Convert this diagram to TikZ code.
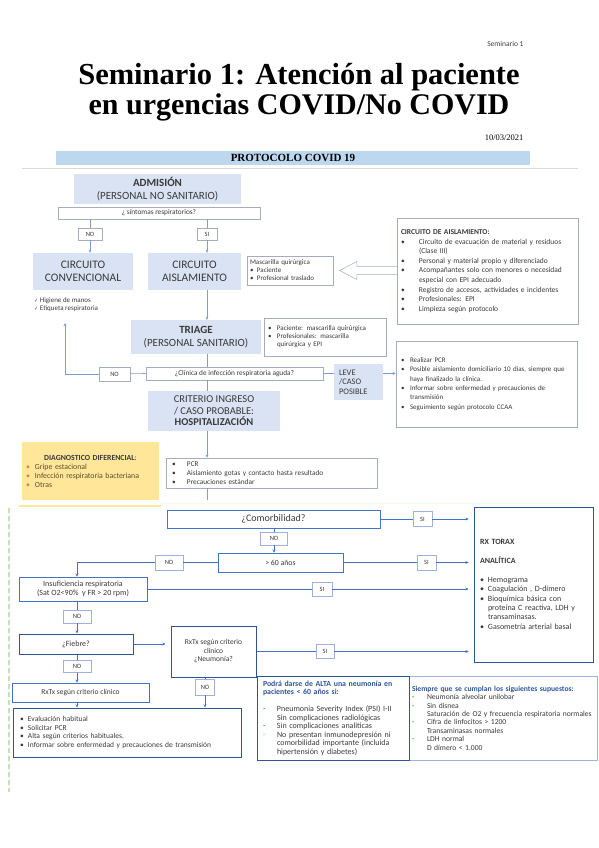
\documentclass[tikz,border=0pt]{standalone}
\usepackage{fontspec}
\setmainfont{Carlito}
\newfontfamily\ttlfont{Liberation Serif}
\newfontfamily\symfont{DejaVu Sans}
\usepackage{xcolor}
\usetikzlibrary{arrows.meta,calc}
\definecolor{barblue}{HTML}{BDD7EE}
\definecolor{boxfill}{HTML}{DAE3F3}
\definecolor{boxline}{HTML}{A3AEBD}
\definecolor{connblue}{HTML}{7F9CCF}
\definecolor{arrblue}{HTML}{4472C4}
\definecolor{lblblue}{HTML}{9DB3DE}
\definecolor{darkblue}{HTML}{2F5597}
\definecolor{diagyellow}{HTML}{FFE699}
\definecolor{diagtxt}{HTML}{5E4A2A}
\definecolor{diagbul}{HTML}{D08A2A}
\definecolor{dashgreen}{HTML}{C5E0B4}
\definecolor{txtdark}{HTML}{3A3A3A}
\newcommand{\fsz}[2]{\fontsize{#1}{#2}\selectfont}
\newcommand{\bitem}[2]{\makebox[#1][l]{#2}}
\tikzset{>={Stealth[length=3.2pt,width=3pt]}}
\tikzset{%
    fillbox/.style={fill=boxfill, text=txtdark, inner sep=0pt, align=center},
    linebox/.style={draw=boxline, line width=0.5pt, fill=white, text=txtdark, inner sep=0pt},
    yesno/.style={draw=boxline, line width=0.5pt, fill=white, text=txtdark, inner sep=0pt, font=\fsz{6.5}{7}},
    conn/.style={draw=connblue, line width=0.6pt},
    bluebox/.style={draw=arrblue, line width=0.6pt, fill=white, text=txtdark, inner sep=0pt},
    byesno/.style={draw=lblblue, line width=0.5pt, fill=white, text=txtdark, inner sep=0pt, font=\fsz{6.5}{7}},
    bconn/.style={draw=arrblue, line width=0.7pt}
}

\begin{document}
\begin{tikzpicture}[x=1pt,y=-1pt]
\useasboundingbox (0,0) rectangle (599,848);

\node[anchor=base east, font=\fsz{7.5}{9}, text=txtdark] (sem) at (527,47) {Seminario 1};
\node[anchor=base, font=\ttlfont\bfseries\fsz{30.5}{30}] (title1) at (299,85) {Seminario 1: Atención al paciente};
\node[anchor=base, font=\ttlfont\bfseries\fsz{30}{30}] (title2) at (299,114) {en urgencias COVID/No COVID};
\node[anchor=base east, font=\ttlfont\fsz{8.5}{10}] (date) at (527,140) {10/03/2021};
\node[fill=barblue, minimum width=474pt, minimum height=14pt, inner sep=0pt, font=\ttlfont\bfseries\fsz{11}{12}] (bar) at (293,158) {PROTOCOLO COVID 19};
\draw[black!15, line width=0.8pt] (22,168) -- (578,168);

\node[fillbox, minimum width=167pt, minimum height=30pt, font=\fsz{11}{13.5}] (adm) at (157.5,189) {\textbf{ADMISIÓN}\\(PERSONAL NO SANITARIO)};
\node[linebox, minimum width=202pt, minimum height=12pt, font=\fsz{7.3}{8}] (sint) at (159,213) {¿ síntomas respiratorios?};
\node[yesno, minimum width=24pt, minimum height=12pt] (no1) at (90,234) {NO};
\node[yesno, minimum width=20pt, minimum height=12pt] (si1) at (207,234) {SI};
\node[fillbox, minimum width=100pt, minimum height=37pt, font=\fsz{11.5}{13}] (conv) at (83,271.5) {CIRCUITO\\CONVENCIONAL};
\node[fillbox, minimum width=93pt, minimum height=37pt, font=\fsz{11.5}{13}] (aisl) at (194.5,271.5) {CIRCUITO\\AISLAMIENTO};
\node[anchor=north west, align=left, inner sep=0pt, text=txtdark, font=\fsz{7}{8}] (checks) at (34,297) {{\symfont\fsz{5}{8}✓} Higiene de manos\\{\symfont\fsz{5}{8}✓} Etiqueta respiratoria};
\node[linebox, minimum height=29pt, text width=80pt, inner xsep=3pt, align=left, font=\fsz{7}{8}] (masc) at (290,270.5) {Mascarilla quirúrgica\\\bitem{7pt}{\textbullet}Paciente\\\bitem{7pt}{\textbullet}Profesional traslado};
\node[linebox, minimum height=106pt, text width=173pt, inner xsep=4pt, align=left, font=\fsz{7.5}{9.6}] (aislbox) at (487.5,271) {\textbf{CIRCUITO DE AISLAMIENTO:}\\
\bitem{18pt}{\textbullet}Circuito de evacuación de material y residuos\\
\bitem{18pt}{}(Clase III)\\
\bitem{18pt}{\textbullet}Personal y material propio y diferenciado\\
\bitem{18pt}{\textbullet}Acompañantes solo con menores o necesidad\\
\bitem{18pt}{}especial con EPI adecuado\\
\bitem{18pt}{\textbullet}Registro de accesos, actividades e incidentes\\
\bitem{18pt}{\textbullet}Profesionales: EPI\\
\bitem{18pt}{\textbullet}Limpieza según protocolo};
\draw[boxline, fill=white, line width=0.5pt] ($(aislbox.west |- masc.east)+(0,-4)$) -- ++(-40,0) -- ++(0,-5) -- ++(-17,9) -- ++(17,9) -- ++(0,-5) -- ++(40,0);

\node[fillbox, minimum width=130pt, minimum height=34pt, font=\fsz{11}{12.5}] (triage) at (196,337) {\textbf{TRIAGE}\\(PERSONAL SANITARIO)};
\node[linebox, minimum height=38pt, text width=114pt, inner xsep=4pt, align=left, font=\fsz{7}{8}] (paci) at (325,337) {\bitem{9pt}{\textbullet}Paciente: mascarilla quirúrgica\\\bitem{9pt}{\textbullet}Profesionales: mascarilla\\\bitem{9pt}{}quirúrgica y EPI};
\node[linebox, minimum width=177pt, minimum height=13pt, font=\fsz{7.3}{8}] (clin) at (234.5,373.5) {¿Clínica de infección respiratoria aguda?};
\node[yesno, minimum width=31pt, minimum height=14pt] (no2) at (114.5,374) {NO};
\node[fillbox, minimum height=36pt, text width=39pt, inner xsep=5pt, align=left, font=\fsz{8.5}{9.5}] (leve) at (358.5,382) {LEVE\\/CASO\\POSIBLE};
\node[linebox, minimum height=86pt, text width=171pt, inner xsep=5pt, align=left, font=\fsz{7}{9.4}] (pcr) at (486.5,384) {\bitem{9pt}{\textbullet}Realizar PCR\\
\bitem{9pt}{\textbullet}Posible aislamiento domiciliario 10 días, siempre que\\
\bitem{9pt}{}haya finalizado la clínica.\\
\bitem{9pt}{\textbullet}Informar sobre enfermedad y precauciones de\\
\bitem{9pt}{}transmisión\\
\bitem{9pt}{\textbullet}Seguimiento según protocolo CCAA};
\node[fillbox, minimum width=132pt, minimum height=40pt, font=\fsz{10.5}{11.5}] (crit) at (214,411) {CRITERIO INGRESO\\/ CASO PROBABLE:\\\textbf{HOSPITALIZACIÓN}};
\node[fill=diagyellow, minimum height=58pt, text width=129pt, inner xsep=4pt, inner ysep=0pt, align=left, text=diagtxt, font=\fsz{7.8}{9}] (diag) at (90.5,471) {\makebox[\linewidth]{\textcolor{txtdark}{\textbf{DIAGNOSTICO DIFERENCIAL}:}}\\
\bitem{9pt}{\textcolor{diagbul}{\textbullet}}Gripe estacional\\
\bitem{9pt}{\textcolor{diagbul}{\textbullet}}Infección respiratoria bacteriana\\
\bitem{9pt}{\textcolor{diagbul}{\textbullet}}Otras};
\node[linebox, minimum height=30pt, text width=199pt, inner xsep=6pt, align=left, font=\fsz{7.3}{9}] (pcr2) at (271.5,473) {\bitem{15pt}{\textbullet}PCR\\\bitem{15pt}{\textbullet}Aislamiento gotas y contacto hasta resultado\\\bitem{15pt}{\textbullet}Precauciones estándar};
\coordinate (convup) at (65,323);
\coordinate (trunkend) at (207,500);

\draw[conn] (sint.south -| no1) -- (no1);
\draw[conn,->] (no1) -- (conv.north -| no1);
\draw[conn] (sint.south -| si1) -- (si1);
\draw[conn,->] (si1) -- (aisl.north -| si1);
\draw[conn,->] (aisl.south -| si1) -- (triage.north -| si1);
\draw[conn] (triage.south -| si1) -- (clin.north -| si1);
\draw[conn] (clin.south -| si1) -- (crit.north -| si1);
\draw[conn,->] (crit.south -| si1) -- (pcr2.north -| si1);
\draw[conn] (pcr2.south -| si1) -- (trunkend);
\draw[conn] (clin.west) -- (no2);
\draw[conn,->] (no2) -| (convup);
\draw[conn] (clin.east) -- (clin.east -| leve.west);
\draw[conn,->] (clin.east -| leve.east) -- (clin.east -| pcr.west);

\draw[diagyellow, line width=1.5pt] (19,506) -- (161,506);
\draw[green!8, line width=1pt] (161,503) -- (578,503);
\draw[dashgreen, line width=1.2pt, dash pattern=on 5pt off 3pt] (9,508) -- (9,792);

\node[bluebox, minimum width=213pt, minimum height=18pt, font=\fsz{10}{11}] (como) at (273.5,519) {¿Comorbilidad?};
\node[byesno, minimum width=27pt, minimum height=13pt] (no3) at (274,538.5) {NO};
\node[byesno, minimum width=19pt, minimum height=15pt] (si2) at (422.5,519) {SI};
\node[bluebox, minimum width=125pt, minimum height=19pt, font=\fsz{7.8}{9}] (sesenta) at (280.5,562.5) {> 60 años};
\node[byesno, minimum width=19pt, minimum height=15pt] (si3) at (426.5,562.5) {SI};
\node[byesno, minimum width=28pt, minimum height=15pt] (no4) at (169,562.5) {NO};
\node[bluebox, minimum width=128pt, minimum height=24pt, align=center, font=\fsz{8}{9}] (insuf) at (83,589) {Insuficiencia respiratoria\\(Sat O2<90\%~ y FR > 20 rpm)};
\node[byesno, minimum width=20pt, minimum height=14pt] (si4) at (322,589) {SI};
\node[byesno, minimum width=28pt, minimum height=13pt] (no5) at (77,616.5) {NO};
\node[bluebox, draw=darkblue, line width=1pt, minimum width=114pt, minimum height=20pt, font=\fsz{8}{9}] (fiebre) at (76,644) {¿Fiebre?};
\node[bluebox, draw=darkblue, line width=1pt, minimum width=85pt, minimum height=51pt, align=center, font=\fsz{7.5}{8.5}] (rxtx) at (213.5,651.5) {RxTx según criterio\\clínico\\¿Neumonía?};
\node[byesno, minimum width=18pt, minimum height=14pt] (si5) at (325,651.5) {SI};
\node[byesno, minimum width=19pt, minimum height=16pt] (no6) at (205,687) {NO};
\node[byesno, minimum width=28pt, minimum height=12pt] (no7) at (77,666.5) {NO};
\node[bluebox, minimum width=137pt, minimum height=19pt, font=\fsz{7.5}{9}] (rxtx2) at (80.5,692.5) {RxTx según criterio clínico};
\node[bluebox, draw=darkblue, line width=1pt, minimum height=49pt, text width=214pt, inner xsep=7pt, align=left, font=\fsz{7.5}{8.7}] (eval) at (127,732.5) {\bitem{8pt}{\textbullet}Evaluación habitual\\
\bitem{8pt}{\textbullet}Solicitar PCR\\
\bitem{8pt}{\textbullet}Alta según criterios habituales.\\
\bitem{8pt}{\textbullet}Informar sobre enfermedad y precauciones de transmisión};
\node[bluebox, draw=darkblue, line width=0.8pt, minimum height=155pt, text width=107pt, inner xsep=6pt, align=left, font=\fsz{8}{9.4}] (rx) at (533.5,584.5) {\textbf{RX TORAX}\\[9.4pt]
\textbf{ANALÍTICA}\\[9.4pt]
\bitem{8pt}{\textbullet}Hemograma\\
\bitem{8pt}{\textbullet}Coagulación , D-dímero\\
\bitem{8pt}{\textbullet}Bioquímica básica con\\
\bitem{8pt}{}proteína C reactiva, LDH y\\
\bitem{8pt}{}transaminasas.\\
\bitem{8pt}{\textbullet}Gasometría arterial basal};
\node[bluebox, draw=lblblue, line width=0.4pt, minimum height=84pt, text width=182pt, inner xsep=3pt, align=left, font=\fsz{7.6}{8.4}] (siempre) at (503,718) {\textcolor{darkblue}{\textbf{Siempre que se cumplan los siguientes supuestos:}}\\
\bitem{15pt}{-}Neumonía alveolar unilobar\\
\bitem{15pt}{-}Sin disnea\\
\bitem{15pt}{}\mbox{Saturación de O2 y frecuencia respiratoria normales}\\
\bitem{15pt}{-}Cifra de linfocitos > 1200\\
\bitem{15pt}{}Transaminasas normales\\
\bitem{15pt}{-}LDH normal\\
\bitem{15pt}{}D dímero < 1.000};
\node[bluebox, draw=darkblue, line width=0.8pt, minimum height=84pt, text width=140pt, inner xsep=6pt, align=left, font=\fsz{8}{8.5}] (podra) at (333,718) {\textcolor{darkblue}{\textbf{\fsz{7.8}{8.5}Podrá darse de ALTA una neumonía en}}\\
\textcolor{darkblue}{\textbf{\fsz{7.8}{8.5}pacientes < 60 años si:}}\\[8.5pt]
\bitem{14pt}{-}Pneumonia Severity Index (PSI) I-II\\
\bitem{14pt}{}Sin complicaciones radiológicas\\
\bitem{14pt}{-}Sin complicaciones analíticas\\
\bitem{14pt}{\textcolor{black!35}{-}}No presentan inmunodepresión ni\\
\bitem{14pt}{}comorbilidad importante (incluida\\
\bitem{14pt}{}hipertensión y diabetes)};

\draw[bconn] (como.east) -- (si2);
\draw[bconn,->,shorten >=5pt] (si2) -- (como.east -| rx.west);
\draw[bconn] (como.south -| no3) -- (no3);
\draw[bconn,->] (no3) -- (sesenta.north -| no3);
\draw[bconn] (sesenta.east) -- (si3);
\draw[bconn,->,shorten >=5pt] (si3) -- (sesenta.east -| rx.west);
\draw[bconn] (sesenta.west) -- (no4);
\draw[bconn,->] (no4) -| (insuf.north -| no5);
\draw[bconn] (insuf.east) -- (si4);
\draw[bconn,->,shorten >=5pt] (si4) -- (insuf.east -| rx.west);
\draw[bconn] (insuf.south -| no5) -- (no5);
\draw[bconn,->] (no5) -- (fiebre.north -| no5);
\draw[bconn,->,shorten >=5pt] (fiebre.east) -- (fiebre.east -| rxtx.west);
\draw[bconn] (rxtx.east) -- (si5);
\draw[bconn,->,shorten >=5pt] (si5) -- (rxtx.east -| rx.west);
\draw[bconn] (rxtx.south -| no6) -- (no6);
\draw[bconn,->] (no6) -- (eval.north -| no6);
\draw[bconn] (fiebre.south -| no7) -- (no7);
\draw[bconn,->] (no7) -- (rxtx2.north -| no7);
\draw[bconn,->] (rxtx2.south -| no7) -- (eval.north -| no7);
\end{tikzpicture}
\end{document}
